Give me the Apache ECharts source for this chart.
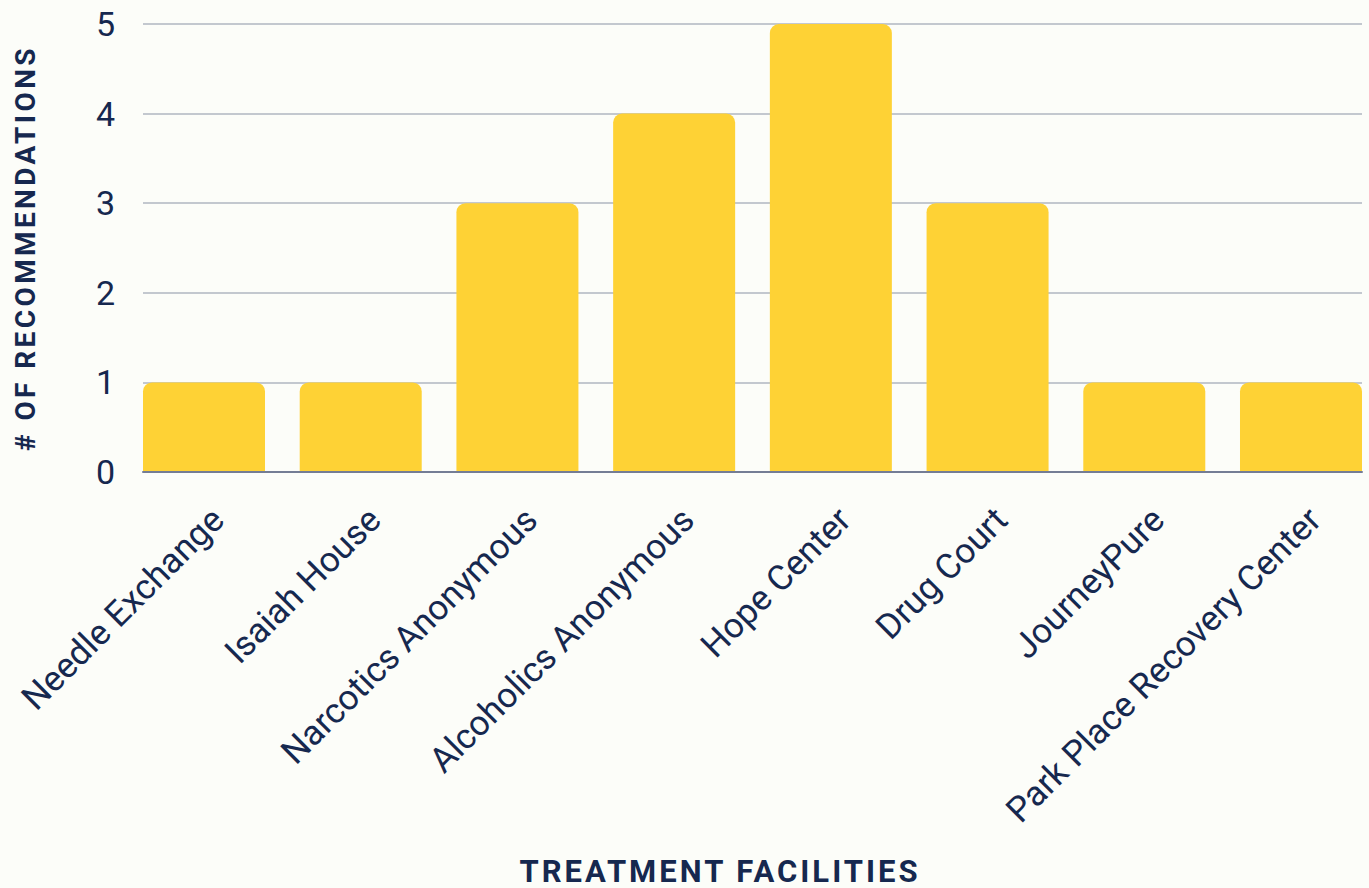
<!DOCTYPE html>
<html><head><meta charset="utf-8">
<script src="https://cdn.jsdelivr.net/npm/echarts@6/dist/echarts.min.js"></script>
<style>html,body{margin:0;padding:0;background:#fcfdf9;}#c{width:1369px;height:888px;}</style>
</head><body><div id="c"></div>
<script>
const categories = ["Needle Exchange","Isaiah House","Narcotics Anonymous","Alcoholics Anonymous","Hope Center","Drug Court","JourneyPure","Park Place Recovery Center"];
const recommendations = [1,1,3,4,5,3,1,1];
const yTicks = [0,1,2,3,4,5];
const yTitle = "# OF RECOMMENDATIONS";
const xTitle = "TREATMENT FACILITIES";

const navy = '#16284f';
const chart = echarts.init(document.getElementById('c'), null, { renderer: 'svg' });
const yMin = yTicks[0], yMax = yTicks[yTicks.length - 1];
chart.setOption({
  backgroundColor: '#fcfdf9',
  animation: false,
  textStyle: { fontFamily: 'Roboto' },
  grid: [
    { left: 143, right: 7, top: 24, bottom: 416, outerBoundsMode: 'none' },
    { left: 125.65, right: -10.35, top: 24, bottom: 416, outerBoundsMode: 'none' },
    { left: 139.65, right: -24.35, top: 24, bottom: 416, outerBoundsMode: 'none' }
  ],
  xAxis: [
    { gridIndex: 0, type: 'category', data: categories, axisLabel: { show: false }, axisTick: { show: false },
      axisLine: { lineStyle: { color: '#747d95', width: 2 } }, z: 5 },
    { gridIndex: 1, type: 'category', data: categories, axisTick: { show: false }, axisLine: { show: false },
      axisLabel: { show: false } },
    { gridIndex: 2, type: 'category', data: categories, axisTick: { show: false }, axisLine: { show: false },
      axisLabel: { rotate: 45, fontSize: 35, color: navy, margin: 42, fontFamily: 'Roboto', interval: 0 } }
  ],
  yAxis: [
    { gridIndex: 0, type: 'value', min: yMin, max: yMax, interval: 1,
      axisLabel: { fontSize: 34, color: navy, margin: 28, fontFamily: 'Roboto' },
      splitLine: { lineStyle: { color: '#c3c8cf', width: 2 } },
      name: yTitle, nameLocation: 'middle', nameRotate: 90, nameGap: 104,
      nameTextStyle: { fontSize: 28, fontWeight: 'bold', color: navy, fontFamily: 'Roboto' } },
    { gridIndex: 1, type: 'value', min: yMin, max: yMax, interval: 1, show: false, splitLine: { show: false } },
    { gridIndex: 2, type: 'value', min: yMin, max: yMax, interval: 1, show: false, splitLine: { show: false } }
  ],
  graphic: [{
    type: 'text', x: 720, y: 871,
    style: { text: xTitle, textAlign: 'center', textVerticalAlign: 'middle', fontSize: 31, fontWeight: 'bold', fill: navy, fontFamily: 'Roboto' }
  }],
  series: [{
    type: 'bar', xAxisIndex: 1, yAxisIndex: 1, data: recommendations, barWidth: 122,
    itemStyle: { color: '#fed235', borderRadius: [9,9,0,0] }
  }]
});
// letter spacing for the two axis titles
document.querySelectorAll('#c svg text').forEach(t => {
  const s = t.textContent;
  if (s === xTitle) t.style.letterSpacing = '3px';
  if (s === yTitle) t.style.letterSpacing = '3.4px';
});
</script></body></html>
